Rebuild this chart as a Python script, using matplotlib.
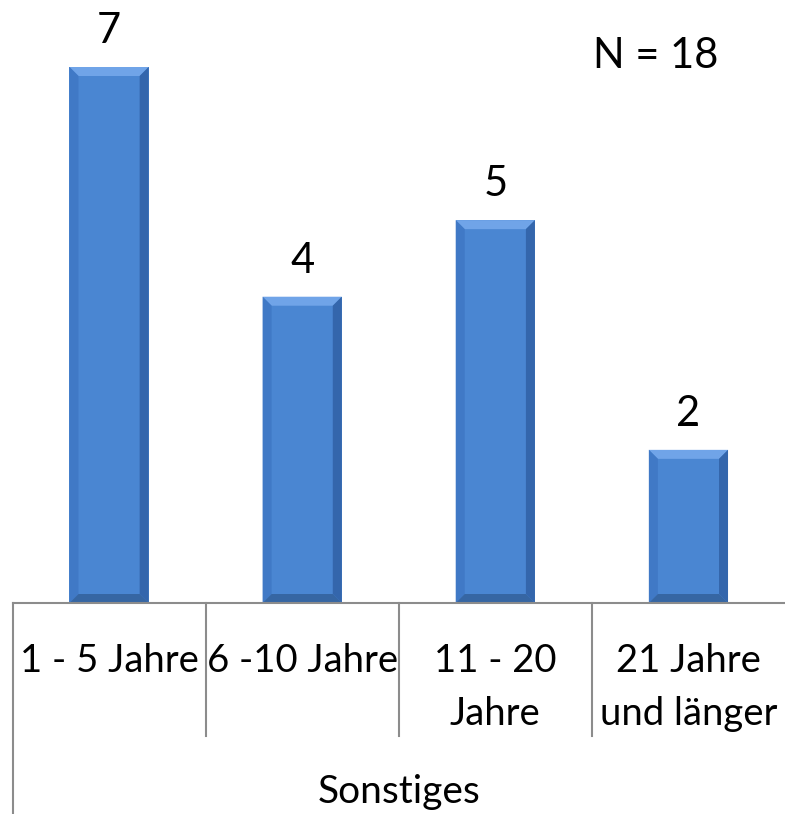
import matplotlib
matplotlib.use("Agg")
import matplotlib.pyplot as plt
from matplotlib.patches import Polygon
import matplotlib.transforms as mtransforms

categories = [["1 - 5 Jahre"], ["6 -10 Jahre"], ["11 - 20", "Jahre"], ["21 Jahre", "und länger"]]
values = [7, 4, 5, 2]
group_label = "Sonstiges"
n_label = "N = 18"

plt.rcParams['font.family'] = ['Lato', 'DejaVu Sans']

W, H = 785, 814
fig = plt.figure(figsize=(W / 100, H / 100), dpi=100)
left_px, right_px, axis_px = 12.5, 785, 603
ax = fig.add_axes([left_px / W, (H - axis_px) / H, (right_px - left_px) / W, axis_px / H])
ax.set_xlim(-0.5, len(values) - 0.5)
unit_px = (axis_px - 67) / 7.0
ax.set_ylim(0, axis_px / unit_px)
ax.axis('off')

bw = 0.41
bars = ax.bar(range(len(values)), values, width=bw, color='#4A86D2', zorder=2, linewidth=0)

# bevel shading in data units
dx = 9 / 193.0
dy = 9 / unit_px
for b in bars:
    x0 = b.get_x(); x1 = x0 + b.get_width(); top = b.get_height()
    polys = [
        ([(x0, top), (x1, top), (x1 - dx, top - dy), (x0 + dx, top - dy)], '#70A4E8'),
        ([(x0, top), (x0 + dx, top - dy), (x0 + dx, dy), (x0, 0)], '#4079C6'),
        ([(x1, top), (x1 - dx, top - dy), (x1 - dx, dy), (x1, 0)], '#3466AC'),
        ([(x0, 0), (x1, 0), (x1 - dx, dy), (x0 + dx, dy)], '#3666A3'),
    ]
    for pts, c in polys:
        ax.add_patch(Polygon(pts, closed=True, facecolor=c, edgecolor='none', zorder=3))
    ax.text(b.get_x() + b.get_width() / 2, top + 24 / unit_px, str(int(top)),
            ha='center', va='baseline', fontsize=30, color='black')

# axis line and category dividers
line_c = '#8C8C8C'
ax.plot([-0.5, len(values) - 0.5], [0, 0], color=line_c, lw=1.5, clip_on=False, zorder=4)
trans = mtransforms.blended_transform_factory(ax.transData, ax.transAxes)
for i in range(len(values)):
    xb = i - 0.5
    depth = 211 if i == 0 else 133
    ax.plot([xb, xb], [0, -depth / axis_px], color=line_c, lw=1.5, clip_on=False, transform=trans)

for i, lines in enumerate(categories):
    for j, t in enumerate(lines):
        ypx = 672 + 53 * j
        ax.text(i, -(ypx - axis_px) / axis_px, t, transform=trans, ha='center', va='baseline',
                fontsize=27.5, color='black')

ax.text((len(values) - 1) / 2, -(803 - axis_px) / axis_px, group_label, transform=trans,
        ha='center', va='baseline', fontsize=28, color='black')

fig.text(656 / W, 1 - 68 / H, n_label, ha='center', va='baseline', fontsize=30, color='black')

fig.savefig('out.png', dpi=100)
